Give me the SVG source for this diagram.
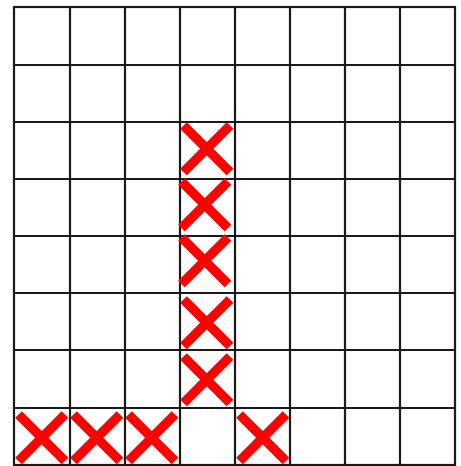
<svg xmlns="http://www.w3.org/2000/svg" xmlns:xlink="http://www.w3.org/1999/xlink" width="461" height="466" viewBox="0 0 461 466">
<style>
.grid{stroke:#1a1a1a;stroke-width:2.2;fill:none}
.x{stroke:#ff0000;stroke-width:9.5;stroke-linecap:butt}
</style>
<defs>
<g id="xmark"><line class="x" x1="3.5" y1="3.5" x2="50" y2="50"/><line class="x" x1="50" y1="3.5" x2="3.5" y2="50"/></g>
</defs>
<rect width="461" height="466" fill="#fff"/>
<g id="grid" class="grid">
<rect x="14" y="7" width="441" height="458"/>
<path d="M70 7V465M125 7V465M180 7V465M235 7V465M290 7V465M345 7V465M400 7V465"/>
<path d="M14 65H455M14 122H455M14 179H455M14 236H455M14 293H455M14 350H455M14 408H455"/>
</g>
<g id="marks">
<use xlink:href="#xmark" x="180" y="122"/>
<use xlink:href="#xmark" x="178" y="178"/>
<use xlink:href="#xmark" x="178" y="234"/>
<use xlink:href="#xmark" x="180" y="296"/>
<use xlink:href="#xmark" x="180" y="353"/>
<use xlink:href="#xmark" x="15" y="411"/>
<use xlink:href="#xmark" x="70" y="411"/>
<use xlink:href="#xmark" x="125" y="411"/>
<use xlink:href="#xmark" x="236" y="411"/>
</g>
</svg>
